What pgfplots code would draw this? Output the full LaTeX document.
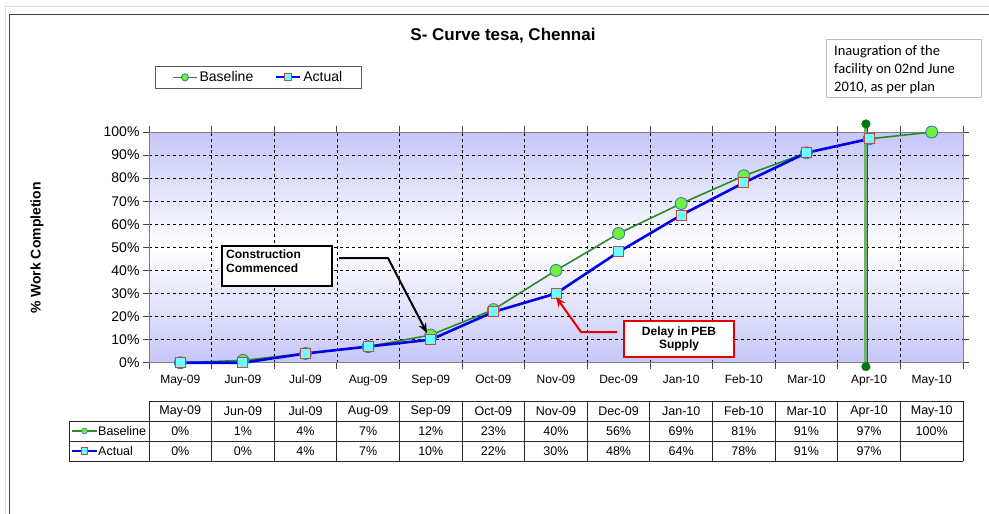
\documentclass[border=0pt]{standalone}
\usepackage{pgfplots}
\pgfplotsset{compat=1.18}
\usepackage{fontspec}
\setmainfont{Liberation Sans}
\newfontfamily\calibri{Carlito}
\usetikzlibrary{arrows.meta}
\definecolor{bgc}{RGB}{198,198,248}
\definecolor{basegreen}{RGB}{40,140,40}
\definecolor{baselime}{RGB}{110,240,60}
\definecolor{baseedge}{RGB}{60,110,190}
\definecolor{actblue}{RGB}{0,0,235}
\definecolor{actcyan}{RGB}{110,255,255}
\definecolor{actedge}{RGB}{200,70,70}
\definecolor{dkgreen}{RGB}{0,120,20}
\definecolor{vlgreen}{RGB}{110,180,110}
\definecolor{framegray}{RGB}{70,70,70}
\definecolor{lightframe}{RGB}{220,220,226}
\definecolor{boxgray}{RGB}{190,190,190}
\definecolor{tabline}{RGB}{40,40,40}
\newcommand{\fs}[1]{\fontsize{#1bp}{#1bp}\selectfont}
\begin{document}
\begin{tikzpicture}
\path[use as bounding box] (0,0) rectangle (989bp,-514bp);
\fill[white] (0,0) rectangle (989bp,-514bp);
\begin{scope}[x=1bp,y=-1bp]
\draw[line width=1bp, lightframe] (5,514) -- (5,6) -- (989,6);
\draw[line width=1.5bp, framegray] (9.5,514) -- (9.5,14.5) -- (989,14.5);
\node[font=\fs{17}\bfseries] at (503,36) {S- Curve tesa, Chennai};
\node[font=\fs{14}\bfseries, rotate=90] at (37,248) {\% Work Completion};
\end{scope}

\begin{axis}[
  at={(149bp,-362.7bp)}, anchor=south west,
  scale only axis, width=814bp, height=230.7bp,
  xmin=-0.5, xmax=12.5, ymin=0, ymax=100,
  clip=false,
  axis background/.style={top color=bgc, bottom color=bgc, middle color=white},
  axis line style={color=gray, line width=1bp},
  xtick={0,...,12},
  xticklabels={May-09,Jun-09,Jul-09,Aug-09,Sep-09,Oct-09,Nov-09,Dec-09,Jan-10,Feb-10,Mar-10,Apr-10,May-10},
  xtick style={draw=none},
  minor xtick={-0.5,0.5,...,12.5},
  minor x tick style={draw=framegray, line width=0.8bp},
  ytick={0,10,...,100},
  yticklabels={0\%,10\%,20\%,30\%,40\%,50\%,60\%,70\%,80\%,90\%,100\%},
  ytick style={draw=framegray, line width=0.8bp},
  tick align=outside,
  major tick length=6bp, minor tick length=6bp,
  xminorgrids=true, ymajorgrids=true,
  grid style={dashed, black, line width=0.6bp},
  minor grid style={dashed, black, line width=0.6bp},
  xticklabel style={font=\fs{12}, yshift=-3bp},
  yticklabel style={font=\fs{14}},
  legend style={at={(0.0074,1.287)}, anchor=north west, legend columns=2,
    draw={rgb,255:red,90;green,90;blue,90}, font=\fs{14}, inner xsep=17bp, inner ysep=3.5bp,
    /tikz/every even column/.append style={column sep=20bp}},
  legend cell align=left,
]
\addplot[basegreen, line width=1.6bp, mark=*, mark size=6bp,
  mark options={fill=baselime, draw=baseedge, line width=0.8bp},
  legend image code/.code={\draw[mark repeat=2, mark phase=2, line width=1.4bp, mark size=3.6bp] plot coordinates {(0bp,0bp) (12bp,0bp) (24bp,0bp)};}]
  coordinates {(0,0) (1,1) (2,4) (3,7) (4,12) (5,23) (6,40) (7,56) (8,69) (9,81) (10,91) (11,97) (12,100)};
\addlegendentry{Baseline}
\addplot[actblue, line width=2.6bp, mark=square*, mark size=5bp,
  mark options={fill=actcyan, draw=actedge, line width=1bp},
  legend image code/.code={\draw[mark repeat=2, mark phase=2, line width=2bp, mark size=3.6bp] plot coordinates {(0bp,0bp) (12bp,0bp) (24bp,0bp)};}]
  coordinates {(0,0) (1,0) (2,4) (3,7) (4,10) (5,22) (6,30) (7,48) (8,64) (9,78) (10,91) (11,97)};
\addlegendentry{Actual}
\addplot[forget plot, draw=dkgreen, line width=0.9bp, double=vlgreen, double distance=3bp]
  coordinates {(10.95,103.5) (10.95,-1.7)};
\addplot[forget plot, only marks, mark=*, mark size=4.3bp, color=dkgreen]
  coordinates {(10.95,103.5) (10.95,-1.7)};
\end{axis}

\begin{scope}[x=1bp,y=-1bp]
% Construction commenced
\draw[line width=2bp, black, fill=white] (222,246) rectangle (332,286);
\node[anchor=north west, font=\fontsize{12bp}{13.5bp}\selectfont\bfseries, align=left, inner sep=0] at (226,250) {Construction\\Commenced};
\draw[line width=2bp, -{Stealth[length=10bp,width=8bp]}] (339,258) -- (388,258) -- (427,333);
% Delay
\draw[line width=2bp, red!90!black, fill=white] (624,321) rectangle (734,357);
\node[font=\fontsize{12bp}{13.5bp}\selectfont\bfseries, align=center, inner sep=0] at (679,339) {Delay in PEB\\Supply};
\draw[line width=2bp, red!90!black, -{Stealth[length=10bp,width=8bp]}] (617,332) -- (581,332) -- (556,297);
% Inauguration
\draw[boxgray, line width=1bp, fill=white] (826,39) rectangle (981,97);
\node[anchor=north west, font=\calibri\fontsize{14.5bp}{18bp}\selectfont, align=left, inner sep=0] at (834,45.5) {Inaugration of the\\facility on 02nd June\\2010, as per plan};
% Table
\draw[tabline, line width=0.9bp] (149,401) -- (963,401);
\foreach \yy in {421,441,461} \draw[tabline, line width=0.9bp] (69,\yy) -- (963,\yy);
\draw[tabline, line width=0.9bp] (69,421) -- (69,461);
\foreach \k in {0,...,13} \draw[tabline, line width=0.9bp] ({149+62.615*\k},401) -- ({149+62.615*\k},461);
\foreach \m [count=\i from 0] in {May-09,Jun-09,Jul-09,Aug-09,Sep-09,Oct-09,Nov-09,Dec-09,Jan-10,Feb-10,Mar-10,Apr-10,May-10}
  \node[font=\fs{12.5}] at ({180.3+62.615*\i},411.5) {\m};
\foreach \v [count=\i from 0] in {0,1,4,7,12,23,40,56,69,81,91,97,100}
  \node[font=\fs{12.5}] at ({180.3+62.615*\i},431.5) {\v\%};
\foreach \v [count=\i from 0] in {0,0,4,7,10,22,30,48,64,78,91,97}
  \node[font=\fs{12.5}] at ({180.3+62.615*\i},451.5) {\v\%};
\draw[basegreen, line width=1.3bp] (72,431) -- (97,431);
\node[circle, draw=baseedge, fill=baselime, inner sep=0, minimum size=6bp, line width=0.6bp] at (84.5,431) {};
\node[anchor=west, font=\fs{12.5}, inner sep=0] at (98,431.5) {Baseline};
\draw[actblue, line width=1.5bp] (72,451) -- (97,451);
\node[rectangle, draw=actedge, fill=actcyan, inner sep=0, minimum size=6.5bp, line width=0.8bp] at (84.5,451) {};
\node[anchor=west, font=\fs{12.5}, inner sep=0] at (98,451.5) {Actual};
\end{scope}
\end{tikzpicture}
\end{document}
